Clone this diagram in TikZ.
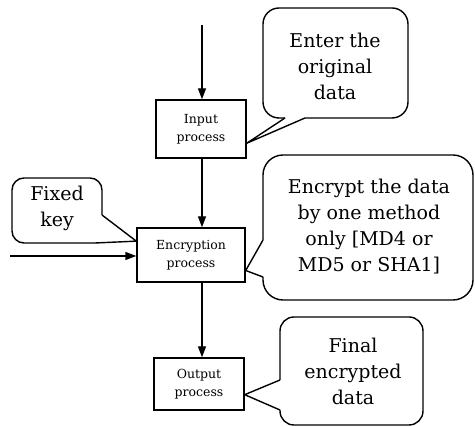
\documentclass[tikz,border=0pt]{standalone}
\usepackage{fontspec}
\setmainfont{DejaVu Serif}
\usetikzlibrary{arrows.meta,calc}

\tikzset{
  procbox/.style={draw, line width=1.4pt, align=center, inner sep=2pt,
    font=\fontsize{12.5}{18}\selectfont},
  calltext/.style={align=center, font=\fontsize{19}{26}\selectfont},
  bubble/.style={line width=1.4pt, rounded corners=#1},
  bubble/.default=16pt,
  tail/.style={line width=1.4pt, line join=miter},
  flow/.style={line width=1.4pt, -{Triangle[length=11pt,width=8pt]}}
}

\begin{document}
\begin{tikzpicture}[x=1pt, y=-1pt]
            \useasboundingbox (0,0) rectangle (475,427);

            % the three steps
            \node[procbox, minimum width=90pt, minimum height=58pt] (input) at (201,129) {Input\\process};
            \node[procbox, minimum width=108pt, minimum height=54pt] (encrypt) at (191,255) {Encryption\\process};
            \node[procbox, minimum width=90pt, minimum height=52pt] (output) at (199,384) {Output\\process};

            % flow down the middle
            \coordinate (col) at (202,25);
            \coordinate (keyin) at (10,256);
            \draw[flow] (col) -- (col |- input.north);
            \draw[flow] (col |- input.south) -- (col |- encrypt.north);
            \draw[flow] (col |- encrypt.south) -- (col |- output.north);
            \draw[flow] (keyin) -- (keyin -| encrypt.west);

            % where the tails point
            \coordinate (intip) at ($(input.north east)!0.74!(input.south east)$);
            \coordinate (keytip) at ($(encrypt.north west)!0.25!(encrypt.south west)$);
            \coordinate (enctip) at ($(encrypt.north east)!0.78!(encrypt.south east)$);
            \coordinate (outtip) at ($(output.north east)!0.7!(output.south east)$);

            % notes
            \node[calltext] (entertext) at (335,66) {Enter the\\original\\data};
            \draw[bubble] (285,118) -- (263,118) -- (263,8) -- (408,8) -- (408,118) -- (305,118);
            \draw[tail] (285,118) -- (intip) -- (305,118);

            \node[calltext] (keytext) at (57,208) {Fixed\\key};
            \draw[bubble=12pt] (95,243) -- (12,243) -- (12,178) -- (102,178) -- (102,215);
            \draw[tail] (102,215) -- (keytip) -- (95,243);

            \node[calltext] (enctext) at (369,227) {Encrypt the data\\by one method\\only [MD4 or\\MD5 or SHA1]};
            \draw[bubble=20pt] (263,277) -- (263,300) -- (473,300) -- (473,155) -- (263,155) -- (263,240);
            \draw[tail] (263,240) -- (enctip) -- (263,277);

            \node[calltext] (finaltext) at (353,371) {Final\\encrypted\\data};
            \draw[bubble=14pt] (280,410) -- (280,425) -- (423,425) -- (423,317) -- (280,317) -- (280,380);
            \draw[tail] (280,380) -- (outtip) -- (280,410);
\end{tikzpicture}
\end{document}
